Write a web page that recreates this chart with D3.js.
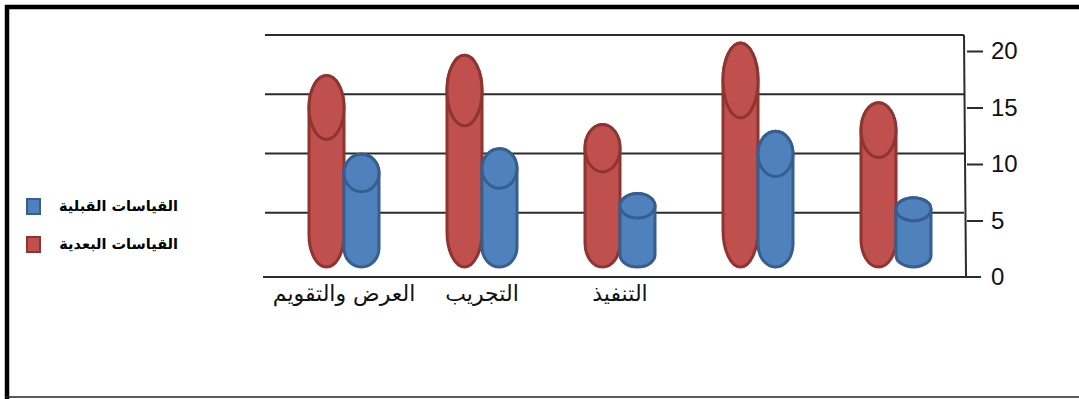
<!DOCTYPE html>
<html>
<head>
<meta charset="utf-8">
<script src="https://cdn.jsdelivr.net/npm/d3@7"></script>
<style>
  html, body { margin: 0; padding: 0; background: #fff; }
  svg { display: block; }
</style>
</head>
<body>
<svg id="chart" width="1079" height="399"></svg>
<script>
// Category labels (left to right); the last two groups carry no label
const categories = ["العرض والتقويم", "التجريب", "التنفيذ", "", ""];
// Series names
const seriesNames = ["القياسات البعدية", "القياسات القبلية"];
// Post-test measurements (red cylinders)
const postValues = [15.0, 16.5, 11.4, 17.4, 13.0];
// Pre-test measurements (blue cylinders)
const preValues = [9.2, 9.6, 6.3, 10.9, 6.0];
// Value axis ticks
const yTicks = [0, 5, 10, 15, 20];
// Legend order (top to bottom)
const legendOrder = ["القياسات القبلية", "القياسات البعدية"];

const colors = {
  "القياسات البعدية": { fill: "#C0504D", stroke: "#8E3431" },
  "القياسات القبلية": { fill: "#4F81BD", stroke: "#365E8F" }
};

const svg = d3.select("#chart");
const W = 1079, H = 399;

// frame
svg.append("line").attr("x1", 5).attr("x2", W).attr("y1", 7).attr("y2", 7)
  .attr("stroke", "#000").attr("stroke-width", 4.5);
svg.append("line").attr("x1", 7).attr("x2", 7).attr("y1", 5).attr("y2", H)
  .attr("stroke", "#000").attr("stroke-width", 4.5);
svg.append("line").attr("x1", 5).attr("x2", W).attr("y1", 397).attr("y2", 397)
  .attr("stroke", "#222").attr("stroke-width", 1.5);

// scales
const x = d3.scaleBand().domain(d3.range(categories.length)).range([275, 965]).padding(0);
const xSub = d3.scaleBand().domain(seriesNames).range([-35, 35]);
const y = d3.scaleLinear().domain([0, 20]).range([277, 51]);      // front (tick) scale
const yWall = d3.scaleLinear().domain([0, 20]).range([272, 35]);  // back-wall gridlines

const wallLeft = 265, wallRight = 964;

// back-wall gridlines
svg.append("g").selectAll("line")
  .data(yTicks.filter(v => v > 0))
  .join("line")
  .attr("x1", wallLeft).attr("x2", wallRight)
  .attr("y1", d => yWall(d)).attr("y2", d => yWall(d))
  .attr("stroke", "#2b2b2b").attr("stroke-width", 2);

// floor line, running out to the zero tick
svg.append("line")
  .attr("x1", wallLeft - 2).attr("x2", 981)
  .attr("y1", y(0)).attr("y2", y(0))
  .attr("stroke", "#2b2b2b").attr("stroke-width", 2);

// vertical axis line
svg.append("line")
  .attr("x1", wallRight).attr("x2", wallRight + 2)
  .attr("y1", yWall(20)).attr("y2", y(0))
  .attr("stroke", "#2b2b2b").attr("stroke-width", 2);

// value axis on the right
const yAxis = svg.append("g")
  .attr("transform", `translate(${wallRight + 3},0)`)
  .call(d3.axisRight(y).tickValues(yTicks).tickSize(16).tickPadding(8));
yAxis.select(".domain").remove();
yAxis.selectAll(".tick line").attr("stroke", "#2b2b2b").attr("stroke-width", 2)
  .filter(d => d === 0).remove();
yAxis.selectAll(".tick text")
  .attr("font-family", "'Liberation Sans', Arial, sans-serif")
  .attr("font-size", 24).attr("fill", "#111");

// category axis
const xAxis = svg.append("g")
  .attr("transform", `translate(0,${y(0)})`)
  .call(d3.axisBottom(x).tickSize(0).tickPadding(8).tickFormat(i => categories[i]));
xAxis.select(".domain").remove();
xAxis.selectAll(".tick text")
  .attr("font-family", "'DejaVu Sans', sans-serif")
  .attr("font-size", 22).attr("fill", "#111");

// cylinders: body with rounded base, elliptical top cap
const baseY = y(0) - 10;
function cylinderPath(x0, w, cy, by, r) {
  const rx = w / 2;
  return `M${x0},${cy} L${x0},${by - r} A${rx},${r} 0 0 0 ${x0 + w},${by - r}` +
         ` L${x0 + w},${cy} A${rx},${r} 0 0 0 ${x0},${cy} Z`;
}

const bars = [];
categories.forEach((c, i) => {
  bars.push({ i, series: seriesNames[0], value: postValues[i] });
  bars.push({ i, series: seriesNames[1], value: preValues[i] });
});

const gBars = svg.append("g");
bars.forEach(d => {
  const w = xSub.bandwidth();
  const x0 = x(d.i) + x.bandwidth() / 2 + xSub(d.series);
  const cy = y(d.value);
  const r = 0.2 * (baseY - cy);
  const col = colors[d.series];
  const g = gBars.append("g");
  g.append("path")
    .attr("d", cylinderPath(x0, w, cy, baseY, r))
    .attr("fill", col.fill).attr("stroke", col.stroke).attr("stroke-width", 3);
  g.append("ellipse")
    .attr("cx", x0 + w / 2).attr("cy", cy).attr("rx", w / 2).attr("ry", r)
    .attr("fill", col.fill).attr("stroke", col.stroke).attr("stroke-width", 3);
});

// legend
const legend = svg.append("g");
legendOrder.forEach((name, k) => {
  const ly = 206 + k * 38;
  legend.append("rect")
    .attr("x", 27).attr("y", ly - 7).attr("width", 13).attr("height", 15)
    .attr("fill", colors[name].fill).attr("stroke", colors[name].stroke).attr("stroke-width", 2);
  legend.append("text")
    .attr("x", 178).attr("y", ly).attr("dy", "0.35em")
    .attr("text-anchor", "end")
    .attr("font-family", "'DejaVu Sans', sans-serif")
    .attr("font-weight", "bold").attr("font-size", 14.5)
    .attr("fill", "#000")
    .text(name);
});
</script>
</body>
</html>
